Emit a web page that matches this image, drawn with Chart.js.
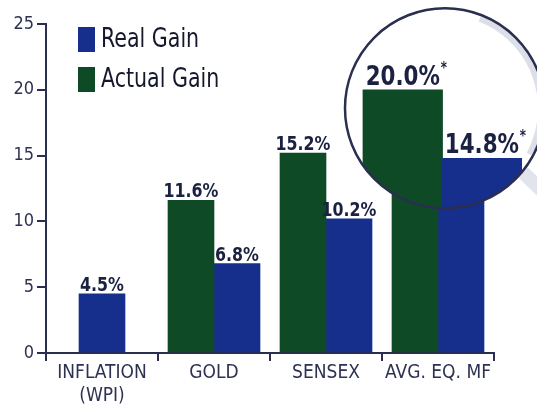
<!DOCTYPE html>
<html>
<head>
<meta charset="utf-8">
<script src="https://cdn.jsdelivr.net/npm/chart.js@4/dist/chart.umd.min.js"></script>
<style>
  html, body { margin: 0; padding: 0; background: #fff; }
  #wrap { width: 537px; height: 412px; }
</style>
</head>
<body>
<div id="wrap"><canvas id="gains"></canvas></div>
<script>
// values
const categories = [['INFLATION', '(WPI)'], 'GOLD', 'SENSEX', 'AVG. EQ. MF'];
const actualGain = [null, 11.6, 15.2, 20.0];
const realGain = [null, 6.8, 10.2, 14.8];
const inflation = [4.5, null, null, null];
const footnotes = ['', '', '', '*'];
const lensIndex = 3; // the category under the magnifying glass

const FONT = "'DejaVu Sans Condensed', 'Liberation Sans Narrow', sans-serif";
const BLUE = '#172f8c';
const GREEN = '#0f4a26';
const INK = '#1b2140';
const AXIS = '#2a2e4f';

const K = 1.72; // horizontal zoom inside the lens
const SQUASH = 0.88; // narrower glyphs for the drawn texts

function lensGeom(chart) {
    const mid = chart.scales.x.getPixelForValue(lensIndex);
    return {
        cx: mid + 7,
        cy: chart.scales.y.getPixelForValue(18.6),
        r: 100,
        fx: mid - 6
    };
}

function drawLabel(ctx, text, note, x, y, size) {
    ctx.save();
    ctx.translate(x, y);
    ctx.scale(SQUASH, 1);
    ctx.font = 'bold ' + size + 'px ' + FONT;
    ctx.textAlign = 'center';
    ctx.textBaseline = 'alphabetic';
    ctx.fillStyle = INK;
    ctx.fillText(text, 0, 0);
    if (note) {
        const w = ctx.measureText(text).width;
        ctx.font = 'bold ' + Math.round(size * 0.55) + 'px ' + FONT;
        ctx.textAlign = 'left';
        ctx.fillText(note, w / 2 + 1, -size * 0.45);
    }
    ctx.restore();
}

const lensPlugin = {
    id: 'lens',
    afterDatasetsDraw(chart) {
        const ctx = chart.ctx;
        const g = lensGeom(chart);

        // handle of the magnifier
        ctx.save();
        ctx.strokeStyle = '#e1e4ec';
        ctx.lineWidth = 14;
        ctx.lineCap = 'round';
        ctx.beginPath();
        ctx.moveTo(g.cx + g.r * 0.8, g.cy + g.r * 0.66);
        ctx.lineTo(g.cx + g.r * 1.3, g.cy + g.r * 1.15);
        ctx.stroke();
        ctx.restore();

        // magnified bars
        ctx.save();
        ctx.beginPath();
        ctx.arc(g.cx, g.cy, g.r, 0, Math.PI * 2);
        ctx.clip();
        ctx.fillStyle = '#fff';
        ctx.fillRect(g.cx - g.r, g.cy - g.r, g.r * 2, g.r * 2);
        ctx.translate(g.fx, 0);
        ctx.scale(K, 1);
        ctx.translate(-g.fx, 0);
        [0, 1].forEach(d => {
            const el = chart.getDatasetMeta(d).data[lensIndex];
            if (el) el.draw(ctx);
        });
        ctx.restore();

        // rim
        ctx.save();
        ctx.strokeStyle = 'rgba(205,210,222,0.7)';
        ctx.lineWidth = 6;
        ctx.beginPath();
        ctx.arc(g.cx, g.cy, g.r - 4, -1.2, 0.5);
        ctx.stroke();
        ctx.strokeStyle = AXIS;
        ctx.lineWidth = 2.5;
        ctx.beginPath();
        ctx.arc(g.cx, g.cy, g.r, 0, Math.PI * 2);
        ctx.stroke();
        ctx.restore();

        // value labels
        chart.data.datasets.forEach((ds, d) => {
            chart.getDatasetMeta(d).data.forEach((el, i) => {
                const v = ds.data[i];
                if (v === null || v === undefined) return;
                const text = v.toFixed(1) + '%';
                if (i === lensIndex) {
                    drawLabel(ctx, text, footnotes[i], g.fx + (el.x - g.fx) * K, el.y - 5, 27);
                } else {
                    drawLabel(ctx, text, footnotes[i], el.x, el.y - 3, 20);
                }
            });
        });
    }
};

const legendPlugin = {
    id: 'sideLegend',
    afterDraw(chart) {
        const ctx = chart.ctx;
        const x0 = chart.chartArea.left + 32;
        const items = [1, 0]; // Real Gain first, then Actual Gain
        items.forEach((d, row) => {
            const ds = chart.data.datasets[d];
            const top = 27 + row * 40;
            ctx.save();
            ctx.fillStyle = ds.backgroundColor;
            ctx.fillRect(x0, top, 17, 25);
            ctx.translate(x0 + 23, top + 20);
            ctx.scale(SQUASH, 1);
            ctx.fillStyle = '#15182b';
            ctx.font = '26px ' + FONT;
            ctx.textAlign = 'left';
            ctx.textBaseline = 'alphabetic';
            ctx.fillText(ds.label, 0, 0);
            ctx.restore();
        });
    }
};

const ctx = document.getElementById('gains').getContext('2d');
new Chart(ctx, {
    type: 'bar',
    data: {
        labels: categories,
        datasets: [
            { label: 'Actual Gain', data: actualGain, backgroundColor: GREEN },
            { label: 'Real Gain', data: realGain, backgroundColor: BLUE },
            { label: 'Inflation (WPI)', data: inflation, backgroundColor: BLUE }
        ]
    },
    options: {
        responsive: true,
        maintainAspectRatio: false,
        animation: false,
        layout: { padding: { top: 24, right: 43, left: 0, bottom: 0 } },
        datasets: {
            bar: { barThickness: 46, skipNull: true, borderWidth: 0 }
        },
        plugins: {
            legend: { display: false },
            tooltip: { enabled: false }
        },
        scales: {
            x: {
                offset: true,
                grid: { offset: true, drawOnChartArea: false, tickLength: 8, color: AXIS, lineWidth: 2 },
                border: { color: AXIS, width: 2 },
                ticks: {
                    color: '#2e3252',
                    font: { family: FONT, size: 19 },
                    padding: 1,
                    autoSkip: false,
                    maxRotation: 0,
                    minRotation: 0
                },
                afterFit(s) { s.height = 59; }
            },
            y: {
                min: 0,
                max: 25,
                ticks: { stepSize: 5, color: '#2e3252', font: { family: FONT, size: 18 }, padding: 3 },
                grid: { drawOnChartArea: false, tickLength: 9, color: AXIS, lineWidth: 2 },
                border: { color: AXIS, width: 2 },
                afterFit(s) { s.width = 46; }
            }
        }
    },
    plugins: [lensPlugin, legendPlugin]
});
</script>
</body>
</html>
